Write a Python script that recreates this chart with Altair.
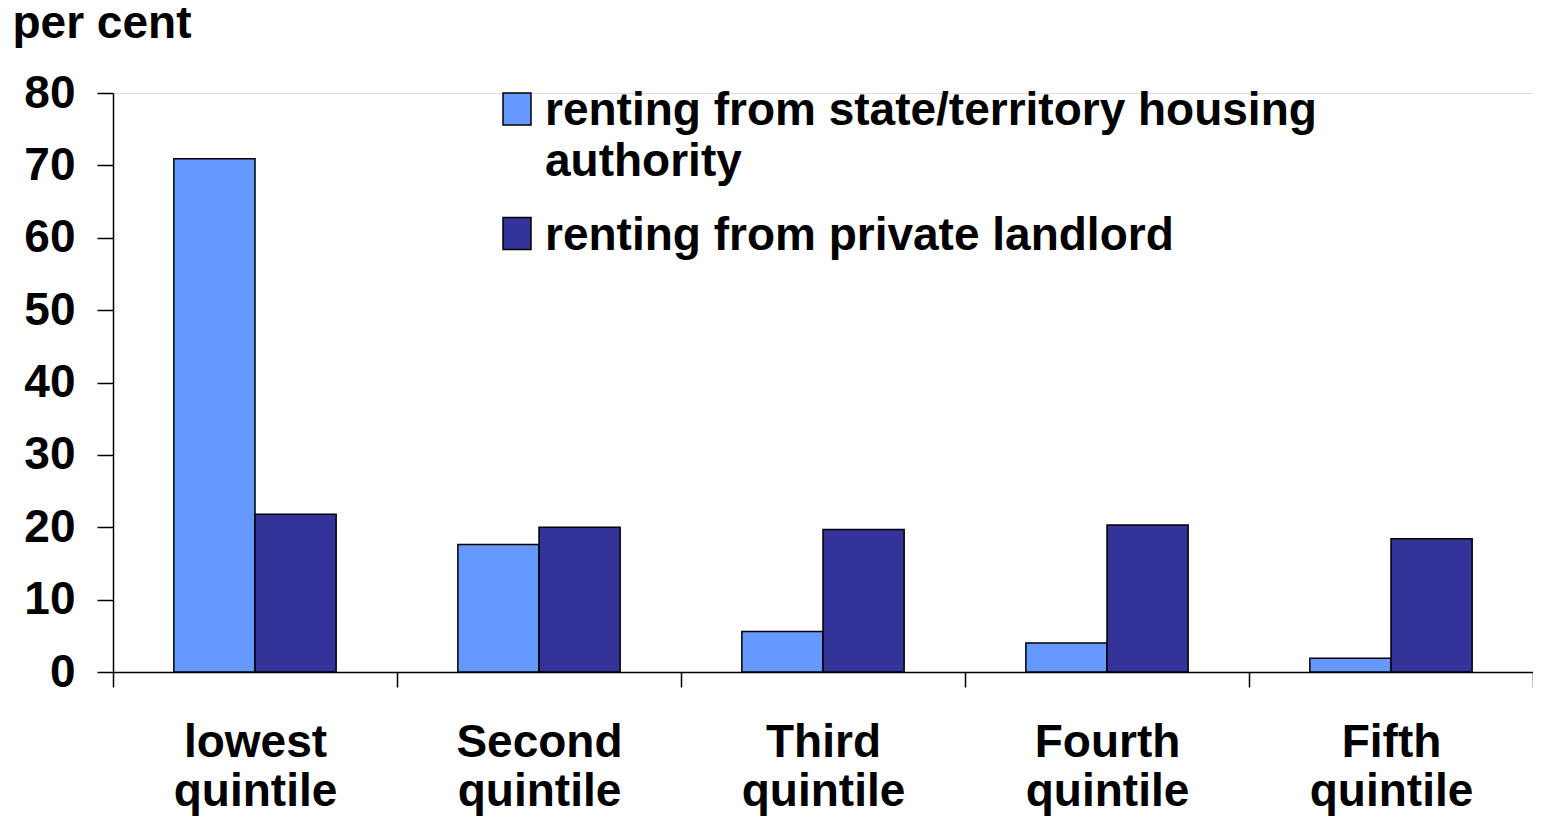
import altair as alt
import pandas as pd

categories = ["lowest quintile", "Second quintile", "Third quintile", "Fourth quintile", "Fifth quintile"]
series_names = ["renting from state/territory housing authority", "renting from private landlord"]
state_values = [70.9, 17.6, 5.6, 4.0, 1.9]
private_values = [21.8, 20.0, 19.7, 20.3, 18.4]
colors = ["#6699FF", "#333399"]

rows = []
for c, s, p in zip(categories, state_values, private_values):
    rows.append({"category": c, "series": series_names[0], "value": s})
    rows.append({"category": c, "series": series_names[1], "value": p})
df = pd.DataFrame(rows)

FONT = "Liberation Sans"
FS = 46

chart = alt.Chart(df).mark_bar(stroke="black", strokeWidth=1.5).encode(
    x=alt.X("category:N", sort=categories,
            scale=alt.Scale(paddingInner=0, paddingOuter=0),
            axis=alt.Axis(title=None, labelAngle=0, tickBand="extent",
                          labelExpr="split(datum.label, ' ')",
                          labelFont=FONT, labelFontSize=FS, labelFontWeight="bold",
                          labelColor="black", labelLineHeight=49,
                          labelBaseline="top", labelPadding=17, tickSize=15,
                          domainColor="black", tickColor="black",
                          domainWidth=1.5, tickWidth=1.5, labelLimit=400)),
    xOffset=alt.XOffset("series:N", sort=series_names,
                        scale=alt.Scale(paddingInner=0, paddingOuter=0.75)),
    y=alt.Y("value:Q", scale=alt.Scale(domain=[0, 80], nice=False),
            axis=alt.Axis(values=[0, 10, 20, 30, 40, 50, 60, 70, 80], grid=False,
                          title="per cent", titleAngle=0, titleAlign="left",
                          titleBaseline="alphabetic", titleX=-101, titleY=-56,
                          titleFont=FONT, titleFontSize=FS, titleFontWeight="bold",
                          titleColor="black",
                          labelFont=FONT, labelFontSize=FS, labelFontWeight="bold",
                          labelColor="black", labelPadding=22, tickSize=16,
                          labelOffset=-16,
                          domainColor="black", tickColor="black",
                          domainWidth=1.5, tickWidth=1.5)),
    color=alt.Color("series:N", sort=series_names,
                    scale=alt.Scale(domain=series_names, range=colors),
                    legend=alt.Legend(title=None, orient="none", legendX=381, legendY=-7,
                                      symbolType="M-0.875,-1H0.875V1H-0.875Z", symbolSize=1024,
                                      symbolStrokeColor="black", symbolStrokeWidth=1.5,
                                      labelFont=FONT, labelFontSize=FS, labelFontWeight="bold",
                                      labelColor="black", labelLimit=1200, labelOffset=5,
                                      labelBaseline="alphabetic",
                                      labelExpr="datum.label == 'renting from state/territory housing authority' ? ['renting from state/territory housing', 'authority'] : datum.label",
                                      rowPadding=25.5, padding=0)),
).properties(
    width=1420,
    height=579,
    autosize=alt.AutoSizeParams(type="none"),
    padding={"left": 105, "top": 85, "right": 0, "bottom": 144},
).configure_view(stroke=None).configure(
    style={"guide-label": {"dy": 16, "lineHeight": 51}}
)

chart.save("out.html", embed_options={"renderer": "svg", "actions": False})
